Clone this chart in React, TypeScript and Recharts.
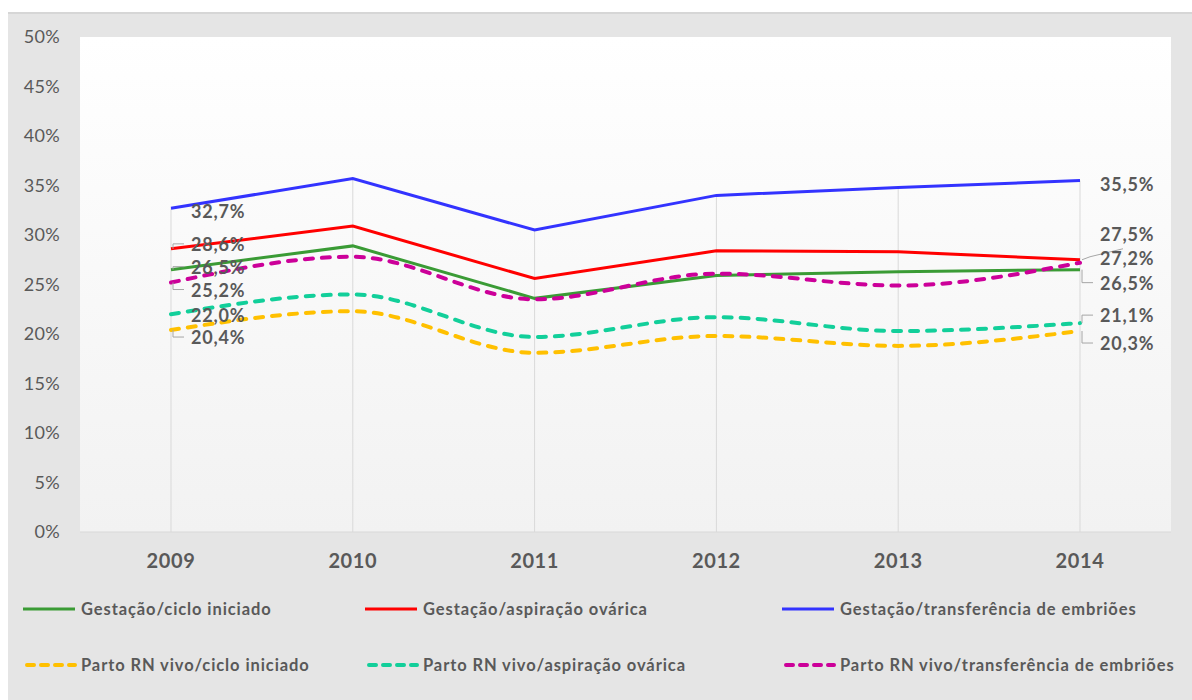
import React from 'react';
import { LineChart, Line, XAxis, YAxis, CartesianGrid, ReferenceLine, LabelList } from 'recharts';

const years = ['2009', '2010', '2011', '2012', '2013', '2014'];
const gestCiclo = [26.5, 28.9, 23.6, 25.9, 26.3, 26.5];
const gestAsp = [28.6, 30.9, 25.6, 28.4, 28.3, 27.5];
const gestTransf = [32.7, 35.7, 30.5, 34.0, 34.8, 35.5];
const partoCiclo = [20.4, 22.3, 18.1, 19.8, 18.8, 20.3];
const partoAsp = [22.0, 24.0, 19.7, 21.7, 20.3, 21.1];
const partoTransf = [25.2, 27.8, 23.5, 26.1, 24.9, 27.2];
const yTicks = [0, 5, 10, 15, 20, 25, 30, 35, 40, 45, 50];

const data = years.map((y, i) => ({
  year: y,
  gestCiclo: gestCiclo[i],
  gestAsp: gestAsp[i],
  gestTransf: gestTransf[i],
  partoCiclo: partoCiclo[i],
  partoAsp: partoAsp[i],
  partoTransf: partoTransf[i],
}));

const maxPerYear = years.map((y, i) => ({
  year: y,
  max: Math.max(gestCiclo[i], gestAsp[i], gestTransf[i], partoCiclo[i], partoAsp[i], partoTransf[i]),
}));

type Leader = 'none' | 'bracket' | 'diag';
interface SeriesCfg {
  key: string;
  name: string;
  color: string;
  dashed: boolean;
  first: { dy: number; leader: Leader };
  last: { dy: number; leader: Leader };
}

const series: SeriesCfg[] = [
  { key: 'gestCiclo', name: 'Gestação/ciclo iniciado', color: '#3A9B35', dashed: false, first: { dy: -3, leader: 'bracket' }, last: { dy: 13, leader: 'bracket' } },
  { key: 'gestAsp', name: 'Gestação/aspiração ovárica', color: '#FF0000', dashed: false, first: { dy: -5, leader: 'bracket' }, last: { dy: -26, leader: 'diag' } },
  { key: 'gestTransf', name: 'Gestação/transferência de embriões', color: '#3333FF', dashed: false, first: { dy: 3, leader: 'none' }, last: { dy: 3, leader: 'none' } },
  { key: 'partoCiclo', name: 'Parto RN vivo/ciclo iniciado', color: '#FFC000', dashed: true, first: { dy: 7, leader: 'bracket' }, last: { dy: 12, leader: 'bracket' } },
  { key: 'partoAsp', name: 'Parto RN vivo/aspiração ovárica', color: '#12CF9A', dashed: true, first: { dy: 1, leader: 'none' }, last: { dy: -8, leader: 'bracket' } },
  { key: 'partoTransf', name: 'Parto RN vivo/transferência de embriões', color: '#CC0099', dashed: true, first: { dy: 7, leader: 'bracket' }, last: { dy: -5, leader: 'none' } },
];

const legendCols = [15, 357, 774];
const legendRows = [595, 651];

const FONT = 'Lato, "Open Sans", sans-serif';
const TEXT = '#595959';

const fmt = (v: number) => v.toFixed(1).replace('.', ',') + '%';

const makeLabel = (cfg: SeriesCfg) => (props: any) => {
  const { x, y, value, index } = props;
  if (index !== 0 && index !== years.length - 1) return null;
  const c = index === 0 ? cfg.first : cfg.last;
  const px = Number(x);
  const py = Number(y);
  const ly = py + c.dy;
  let leader: React.ReactNode = null;
  if (c.leader === 'bracket') {
    leader = <path d={`M${px + 2},${py} L${px + 2},${ly} L${px + 13},${ly}`} fill="none" stroke="#A6A6A6" strokeWidth={1} />;
  } else if (c.leader === 'diag') {
    leader = <path d={`M${px + 2},${py} L${px + 10},${py - 3} L${px + 43},${py - 11}`} fill="none" stroke="#A6A6A6" strokeWidth={1} />;
  }
  return (
    <g>
      {leader}
      <text x={px + 20} y={ly} dominantBaseline="central" textAnchor="start" fontFamily={FONT} fontWeight={700} fontSize={18} letterSpacing={0.8} fill={TEXT}>
        {fmt(Number(value))}
      </text>
    </g>
  );
};

const LegendIcon = ({ color, dashed }: { color: string; dashed: boolean }) => (
  <svg width={54} height={8} style={{ display: 'block' }}>
    {dashed ? (
      <line x1={4} y1={4} x2={52} y2={4} stroke={color} strokeWidth={4} strokeDasharray="7 7" strokeLinecap="round" />
    ) : (
      <line x1={0} y1={4} x2={52} y2={4} stroke={color} strokeWidth={3} />
    )}
  </svg>
);

export default function App() {
  return (
    <div
      style={{
        position: 'absolute',
        left: 8,
        top: 12,
        width: 1184,
        height: 688,
        background: '#E5E5E5',
        borderTop: '2px solid #D6D6D6',
        boxSizing: 'border-box',
        overflow: 'hidden',
      }}
    >
      <LineChart width={1184} height={688} data={data} margin={{ top: 23, right: 21, bottom: 130, left: 0 }}>
        <defs>
          <linearGradient id="plotBg" x1="0" y1="0" x2="0" y2="1">
            <stop offset="0%" stopColor="#FFFFFF" />
            <stop offset="100%" stopColor="#F2F2F2" />
          </linearGradient>
        </defs>
        <CartesianGrid horizontal={false} vertical={false} fill="url(#plotBg)" stroke="none" />
        <XAxis
          dataKey="year"
          padding={{ left: 91, right: 91 }}
          height={40}
          tickSize={0}
          tickMargin={22}
          axisLine={{ stroke: '#D9D9D9' }}
          tick={{ fontFamily: FONT, fontSize: 20, fontWeight: 700, fill: TEXT, letterSpacing: 0.6 }}
        />
        <YAxis
          domain={[0, 50]}
          ticks={yTicks}
          width={72}
          tickSize={0}
          tickMargin={20}
          axisLine={false}
          tickFormatter={(v: number) => `${v}%`}
          tick={{ fontFamily: FONT, fontSize: 18, fill: TEXT, letterSpacing: 0.3 }}
        />
        {maxPerYear.map((m) => (
          <ReferenceLine
            key={m.year}
            segment={[{ x: m.year, y: 0 }, { x: m.year, y: m.max }]}
            stroke="#D9D9D9"
            strokeWidth={1}
          />
        ))}
        {series.map((s) => (
          <Line
            key={s.key}
            dataKey={s.key}
            name={s.name}
            stroke={s.color}
            strokeWidth={s.dashed ? 4 : 3}
            strokeDasharray={s.dashed ? '8 9' : undefined}
            strokeLinecap={s.dashed ? 'round' : 'butt'}
            type={s.dashed ? 'monotone' : 'linear'}
            dot={false}
            activeDot={false}
            isAnimationActive={false}
          >
            <LabelList dataKey={s.key} content={makeLabel(s)} />
          </Line>
        ))}
      </LineChart>
      {series.map((s, i) => {
        const col = i % 3;
        const row = Math.floor(i / 3);
        return (
          <div
            key={s.key}
            style={{
              position: 'absolute',
              left: legendCols[col],
              top: legendRows[row] - 12,
              height: 24,
              display: 'flex',
              alignItems: 'center',
              gap: 4,
              fontFamily: FONT,
              fontWeight: 700,
              fontSize: 16.5,
              letterSpacing: 0.9,
              color: TEXT,
              whiteSpace: 'nowrap',
            }}
          >
            <LegendIcon color={s.color} dashed={s.dashed} />
            <span>{s.name}</span>
          </div>
        );
      })}
    </div>
  );
}
